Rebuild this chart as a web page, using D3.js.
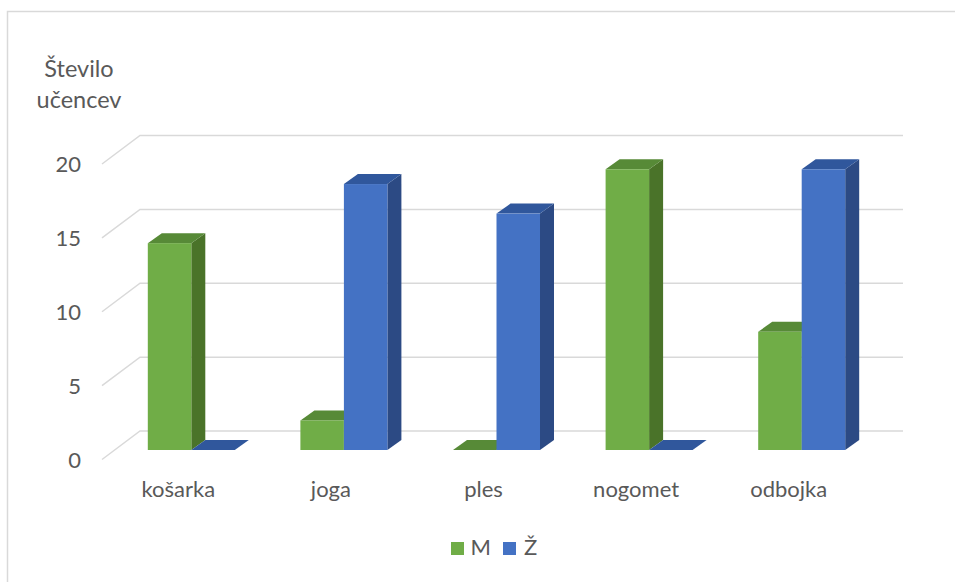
<!DOCTYPE html>
<html>
<head>
<meta charset="utf-8">
<script src="https://cdn.jsdelivr.net/npm/d3@7/dist/d3.min.js"></script>
<style>
  html, body { margin: 0; padding: 0; background: #ffffff; }
  svg { display: block; }
  text { font-family: Lato, "Open Sans", sans-serif; fill: #595959; }
</style>
</head>
<body>
<svg id="chart" width="955" height="582"></svg>
<script>
// Number of pupils per sport, by gender
const categories = ["košarka", "joga", "ples", "nogomet", "odbojka"];
const seriesNames = ["M", "Ž"];
const valuesM = [14, 2, 0, 19, 8];
const valuesZ = [0, 18, 16, 0, 19];
const yTicks = [0, 5, 10, 15, 20];
const axisTitle = ["Število", "učencev"];

const seriesValues = [valuesM, valuesZ];
const colors = {
  "M": { front: "#70ad47", top: "#578a37", side: "#4a7329" },
  "Ž": { front: "#4472c4", top: "#30579c", side: "#2c4a84" }
};

const W = 955, H = 582;
const svg = d3.select("#chart");

// Outer chart frame (left and top edges)
svg.append("path")
  .attr("d", `M7.5,${H} L7.5,11.5 L${W},11.5`)
  .attr("fill", "none")
  .attr("stroke", "#d9d9d9")
  .attr("stroke-width", 1.5);

// Floor front edge of the 3D plot and depth offsets
const x = d3.scaleBand().domain(categories).range([102, 865]);
const y = d3.scaleLinear().domain([0, 20]).range([459.5, 164]);
const wallDX = 38, wallDY = -28.5;   // back wall offset
const faceDX = 13, faceDY = -9.5;    // bar front face offset
const barDX = 14, barDY = -10;       // bar depth
const barW = 43.5;

const xs = d3.scaleBand().domain(seriesNames)
  .range([x.bandwidth() / 2 - barW, x.bandwidth() / 2 + barW]);

// Gridlines: side-wall diagonal + back-wall horizontal
const grid = svg.append("g");
yTicks.forEach(t => {
  const yf = y(t);
  grid.append("path")
    .attr("d", `M${x.range()[0]},${yf} L${x.range()[0] + wallDX},${yf + wallDY} L${x.range()[1] + wallDX},${yf + wallDY}`)
    .attr("fill", "none")
    .attr("stroke", "#d9d9d9")
    .attr("stroke-width", 1.5);
});

// Y tick labels
svg.append("g").selectAll("text")
  .data(yTicks)
  .join("text")
  .attr("x", 81)
  .attr("y", d => y(d) + 8)
  .attr("text-anchor", "end")
  .attr("font-size", 22)
  .text(d => d);

// Axis title
svg.append("text")
  .attr("x", 79)
  .attr("y", 77)
  .attr("text-anchor", "middle")
  .attr("font-size", 23.5)
  .selectAll("tspan")
  .data(axisTitle)
  .join("tspan")
  .attr("x", 79)
  .attr("dy", (d, i) => i === 0 ? 0 : 31)
  .text(d => d);

// 3D columns
const bars = [];
categories.forEach((c, ci) => {
  seriesNames.forEach((s, si) => {
    bars.push({ cat: c, series: s, value: seriesValues[si][ci] });
  });
});

const yBase = y(0) + faceDY;
const barG = svg.append("g").selectAll("g")
  .data(bars)
  .join("g");

barG.each(function (d) {
  const g = d3.select(this);
  const x0 = x(d.cat) + xs(d.series) + faceDX;
  const x1 = x0 + xs.bandwidth();
  const yt = y(d.value) + faceDY;
  const col = colors[d.series];
  // side face
  g.append("path")
    .attr("d", `M${x1},${yBase} L${x1 + barDX},${yBase + barDY} L${x1 + barDX},${yt + barDY} L${x1},${yt} Z`)
    .attr("fill", col.side);
  // top face
  g.append("path")
    .attr("d", `M${x0},${yt} L${x0 + barDX},${yt + barDY} L${x1 + barDX},${yt + barDY} L${x1},${yt} Z`)
    .attr("fill", col.top);
  // front face
  g.append("rect")
    .attr("x", x0)
    .attr("y", yt)
    .attr("width", x1 - x0)
    .attr("height", yBase - yt)
    .attr("fill", col.front);
});

// Category labels
svg.append("g").selectAll("text")
  .data(categories)
  .join("text")
  .attr("x", d => x(d) + x.bandwidth() / 2)
  .attr("y", 497)
  .attr("text-anchor", "middle")
  .attr("font-size", 22)
  .text(d => d);

// Legend
const legendX = [451, 503];
const legend = svg.append("g").selectAll("g")
  .data(seriesNames)
  .join("g")
  .attr("transform", (d, i) => `translate(${legendX[i]},542)`);
legend.append("rect")
  .attr("width", 13)
  .attr("height", 13)
  .attr("fill", d => colors[d].front);
legend.append("text")
  .attr("x", (d, i) => i === 0 ? 19.5 : 21)
  .attr("y", 13)
  .attr("font-size", 22)
  .text(d => d);
</script>
</body>
</html>
